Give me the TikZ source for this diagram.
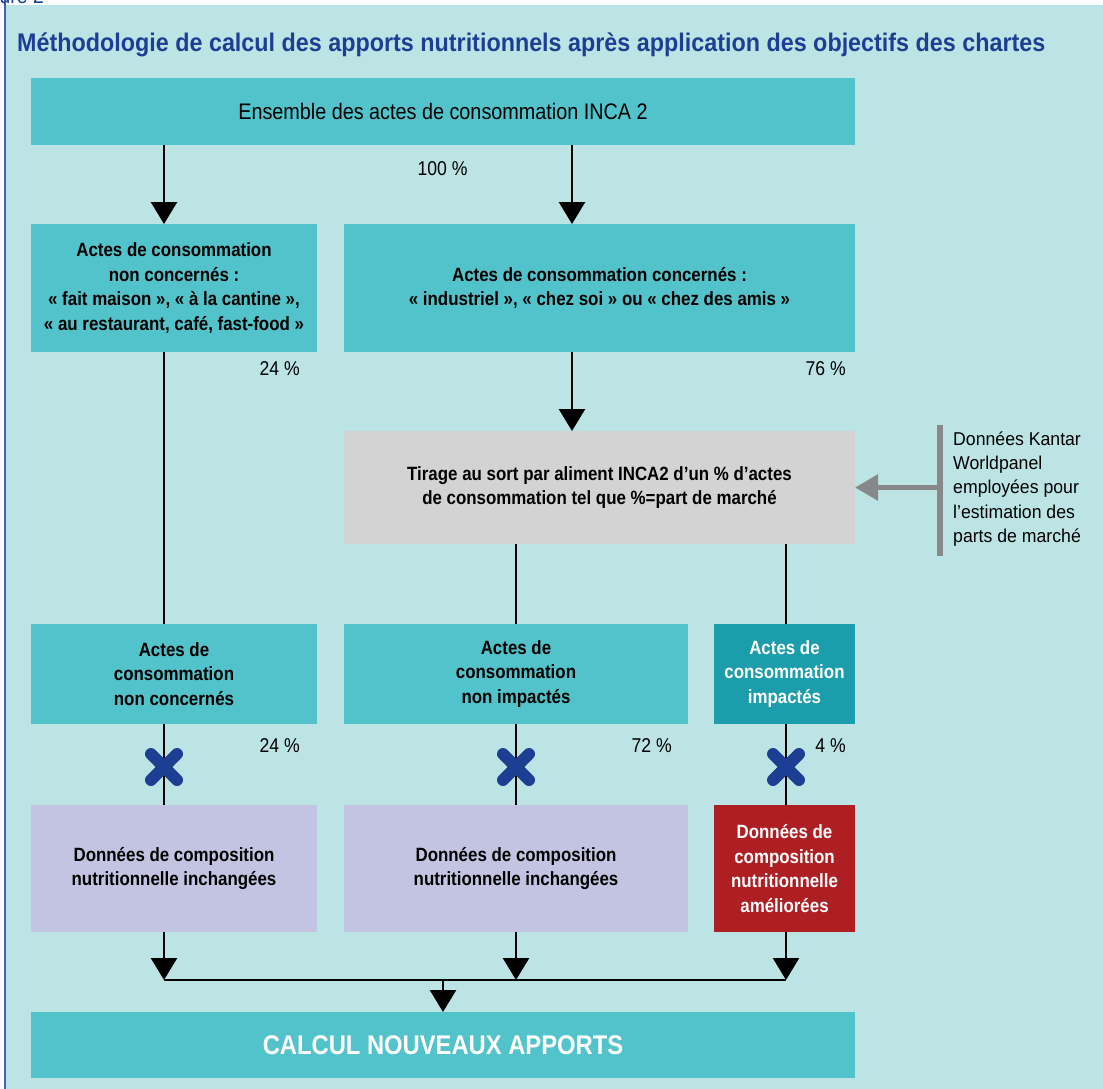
\documentclass[tikz,border=0pt]{standalone}
\usepackage{fontspec}
\setmainfont{Liberation Sans}[FakeStretch=0.88]
\newfontfamily\titlefont{Liberation Sans}[FakeStretch=0.915]
\newfontfamily\notefont{Liberation Sans}[FakeStretch=0.95]
\usetikzlibrary{arrows.meta}

\definecolor{panel}{HTML}{BDE4E5}
\definecolor{tealbox}{HTML}{52C3CA}
\definecolor{darkteal}{HTML}{1B9DAC}
\definecolor{greybox}{HTML}{D3D3D3}
\definecolor{lavbox}{HTML}{C3C4E1}
\definecolor{redbox}{HTML}{AE1F24}
\definecolor{figblue}{HTML}{1C3F94}
\definecolor{arrgrey}{HTML}{87888A}

\newcommand{\boxfont}{\fontsize{19.2}{24.7}\selectfont\bfseries}
\newcommand{\regfont}{\fontsize{20}{24.3}\selectfont}

\begin{document}
\begin{tikzpicture}[x=1pt,y=-1pt,
  box/.style={inner sep=0pt, outer sep=0pt, align=center, font=\boxfont, text=black},
  tealb/.style={box, fill=tealbox},
  darkb/.style={box, fill=darkteal, text=white},
  greyb/.style={box, fill=greybox},
  lavb/.style={box, fill=lavbox},
  redb/.style={box, fill=redbox, text=white},
  conn/.style={line width=2.5pt, black},
  arr/.style={conn, -{Triangle[width=26pt,length=22pt]}},
  pct/.style={inner sep=0pt, font=\regfont, anchor=east},
  xmark/.style={line width=12pt, line cap=round, figblue},
  garr/.style={line width=5.5pt, arrgrey, -{Triangle[width=25pt,length=23pt]}},
  gbar/.style={line width=5.5pt, arrgrey}]

\useasboundingbox (0,0) rectangle (1103,1089);
\clip (0,0) rectangle (1103,1089);

% background panel and frame line
\fill[white] (0,0) rectangle (1103,1089);
\fill[panel] (6,5) rectangle (1103,1089);
\draw[figblue!80, line width=1.5pt] (5,0) -- (5,1089);
\node[figblue, anchor=base east, inner sep=0pt, font=\fontsize{22}{22}\selectfont] (fig) at (44,4) {Figure 2};

% title
\node[figblue, anchor=base west, inner sep=0pt, font=\titlefont\fontsize{25.5}{25.5}\selectfont\bfseries] (title) at (17,52)
  {Méthodologie de calcul des apports nutritionnels après application des objectifs des chartes};

% column coordinates
\coordinate (cL) at (164,0);
\coordinate (cT) at (572,0);
\coordinate (cM) at (516,0);
\coordinate (cR) at (786,0);
\coordinate (cF) at (443,0);

% boxes
\node[tealb, minimum width=824pt, minimum height=67pt, font=\fontsize{22.5}{24}\selectfont] (top) at (443,111.5)
  {Ensemble des actes de consommation INCA 2};
\node[tealb, minimum width=286pt, minimum height=128pt] (nc) at (174,288)
  {Actes de consommation\\non concernés :\\«~fait maison~», «~à la cantine~»,\\«~au restaurant, café, fast-food~»};
\node[tealb, minimum width=511pt, minimum height=128pt] (conc) at (599.5,288)
  {Actes de consommation concernés :\\«~industriel~», «~chez soi~» ou «~chez des amis~»};
\node[greyb, minimum width=511pt, minimum height=113pt] (grey) at (599.5,487.5)
  {Tirage au sort par aliment INCA2 d’un \% d’actes\\de consommation tel que \%=part de marché};

\node[tealb, minimum width=286pt, minimum height=100pt] (rL) at (174,674)
  {Actes de\\consommation\\non concernés};
\node[tealb, minimum width=344pt, minimum height=100pt] (rM) at (516,674)
  {Actes de\\consommation\\non impactés};
\node[darkb, minimum width=141pt, minimum height=100pt] (rR) at (784.5,674)
  {Actes de\\consommation\\impactés};

\node[lavb, minimum width=286pt, minimum height=127pt] (dL) at (174,868.5)
  {Données de composition\\nutritionnelle inchangées};
\node[lavb, minimum width=344pt, minimum height=127pt] (dM) at (516,868.5)
  {Données de composition\\nutritionnelle inchangées};
\node[redb, minimum width=141pt, minimum height=127pt] (dR) at (784.5,868.5)
  {Données de\\composition\\nutritionnelle\\améliorées};

\node[tealb, text=white, minimum width=824pt, minimum height=66pt, font=\fontsize{27}{27}\selectfont\bfseries] (final) at (443,1045)
  {CALCUL NOUVEAUX APPORTS};

% percentages
\node[pct, anchor=center] (p100) at (442.5,169) {100 \%};
\node[pct] (p24a) at (300,369) {24 \%};
\node[pct] (p76) at (846,369) {76 \%};
\node[pct] (p24b) at (300,746) {24 \%};
\node[pct] (p72) at (672,746) {72 \%};
\node[pct] (p4) at (846,746) {4 \%};

% connectors
\draw[arr] (top.south -| cL) -- (nc.north -| cL);
\draw[arr] (top.south -| cT) -- (conc.north -| cT);
\draw[arr] (conc.south -| cT) -- (grey.north -| cT);
\draw[conn] (nc.south -| cL) -- (rL.north -| cL);
\draw[conn] (grey.south -| cM) -- (rM.north -| cM);
\draw[conn] (grey.south -| cR) -- (rR.north -| cR);
\draw[conn] (rL.south -| cL) -- (dL.north -| cL);
\draw[conn] (rM.south -| cM) -- (dM.north -| cM);
\draw[conn] (rR.south -| cR) -- (dR.north -| cR);

% crosses on the links
\coordinate (xL) at (164,767);
\coordinate (xM) at (516,767);
\coordinate (xR) at (786,767);
\foreach \p in {xL,xM,xR}{
  \draw[xmark] ([shift={(-13,-13)}]\p) -- ([shift={(13,13)}]\p);
  \draw[xmark] ([shift={(-13,13)}]\p) -- ([shift={(13,-13)}]\p);
}

% merge towards the final box
\coordinate (mL) at (164,980);
\coordinate (mM) at (516,980);
\coordinate (mR) at (786,980);
\coordinate (mC) at (443,980);
\draw[conn] (mL) -- (mR);
\draw[arr] (dL.south -| mL) -- (mL);
\draw[arr] (dM.south -| mM) -- (mM);
\draw[arr] (dR.south -| mR) -- (mR);
\draw[arr] (mC) -- (final.north -| mC);

% external data source
\coordinate (barT) at (940,425);
\coordinate (barB) at (940,556);
\draw[gbar] (barT) -- (barB);
\draw[garr] (barT |- grey.east) -- (grey.east);
\node[anchor=west, align=left, inner sep=0pt, font=\notefont\fontsize{18.6}{24.3}\selectfont] (kantar) at (953,489)
  {Données Kantar\\Worldpanel\\employées pour\\l’estimation des\\parts de marché};

\end{tikzpicture}
\end{document}
